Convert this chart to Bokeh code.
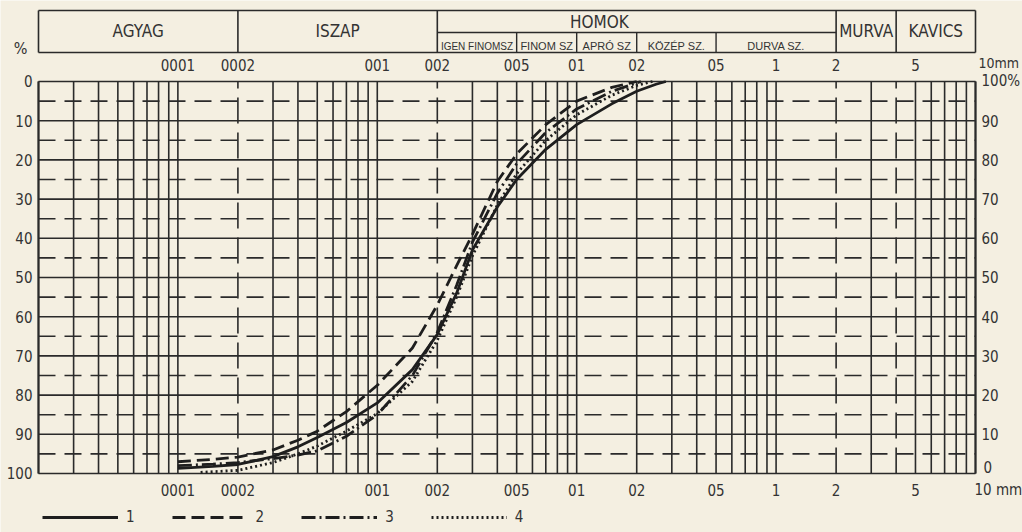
from bokeh.plotting import figure
from bokeh.models import Range1d, Legend, LegendItem
from bokeh.core.properties import value
from bokeh.embed import file_html
from bokeh.resources import INLINE

# ---------------- data ----------------
d1 = [0.001, 0.0015, 0.002, 0.003, 0.004, 0.005, 0.007, 0.01, 0.015, 0.02,
      0.025, 0.03, 0.04, 0.05, 0.07, 0.1, 0.15, 0.2, 0.25, 0.28]
p1 = [1.3, 1.8, 2.3, 4.3, 6.8, 9.2, 13.0, 18.0, 26.5, 35.5,
      46.0, 57.0, 68.0, 75.0, 82.7, 89.0, 94.3, 97.5, 99.3, 100.0]
d2 = [0.001, 0.0015, 0.002, 0.003, 0.004, 0.005, 0.007, 0.01, 0.015, 0.02,
      0.025, 0.03, 0.04, 0.05, 0.07, 0.1, 0.15, 0.2]
p2 = [3.0, 3.6, 4.2, 6.0, 8.5, 10.8, 15.8, 22.5, 32.0, 43.0,
      53.0, 61.0, 74.5, 81.5, 89.0, 95.0, 98.5, 100.0]
d3 = [0.001, 0.0015, 0.002, 0.003, 0.004, 0.005, 0.007, 0.01, 0.015, 0.02,
      0.025, 0.03, 0.04, 0.05, 0.07, 0.1, 0.15, 0.21]
p3 = [2.0, 2.4, 2.8, 3.8, 4.7, 5.8, 9.5, 15.0, 25.0, 36.0,
      48.0, 59.0, 71.5, 79.0, 87.0, 93.0, 97.5, 100.0]
d4 = [0.0013, 0.002, 0.003, 0.004, 0.005, 0.007, 0.01, 0.015, 0.02, 0.025,
      0.03, 0.04, 0.05, 0.07, 0.1, 0.15, 0.2, 0.24]
p4 = [0.3, 0.8, 2.8, 5.0, 7.0, 10.8, 15.3, 23.5, 34.0, 45.0,
      55.5, 68.5, 76.5, 85.0, 91.5, 96.5, 99.0, 100.0]
series_names = ["1", "2", "3", "4"]

# axis / tick data
x_min, x_max = 0.0002, 10.0
decades = [0.0001, 0.001, 0.01, 0.1, 1.0]
boundaries = [0.002, 0.02, 2.0, 4.0]           # dashed fraction limits
sand_bounds = [0.05, 0.1, 0.2, 0.5]             # sand sub-classes
tick_vals = [0.001, 0.002, 0.01, 0.02, 0.05, 0.1, 0.2, 0.5, 1, 2, 5]
tick_text = ["0001", "0002", "001", "002", "005", "01", "02", "05", "1", "2", "5"]
left_vals = [0, 10, 20, 30, 40, 50, 60, 70, 80, 90, 100]      # % retained (top->bottom)
right_text = ["100%", "90", "80", "70", "60", "50", "40", "30", "20", "10"]
right_vals = [100, 90, 80, 70, 60, 50, 40, 30, 20, 10]
main_classes = ["AGYAG", "ISZAP", "HOMOK", "MURVA", "KAVICS"]
main_spans = [(0.0002, 0.002), (0.002, 0.02), (0.02, 2.0), (2.0, 4.0), (4.0, 10.0)]
sand_classes = ["IGEN FINOMSZ", "FINOM SZ", "APRÓ SZ", "KÖZÉP SZ.", "DURVA SZ."]
sand_spans = [(0.02, 0.05), (0.05, 0.1), (0.1, 0.2), (0.2, 0.5), (0.5, 2.0)]

# ---------------- style ----------------
BG = "#f4efe1"
INK = "#2a2a2a"
TXT = "#333333"
NUM_FONT = "'DejaVu Sans Condensed', 'Liberation Sans', sans-serif"
SUB_FONT = "'Liberation Sans', sans-serif"

W, H = 1022, 532
p = figure(width=W, height=H, x_axis_type="log", output_backend="svg",
           toolbar_location=None, x_axis_location=None, y_axis_location=None,
           min_border=0, min_border_left=0, min_border_right=0,
           min_border_top=0, min_border_bottom=0,
           x_range=Range1d(10 ** -3.88953, 10 ** 1.23570),
           y_range=Range1d(-15.051, 120.663))
p.background_fill_color = BG
p.border_fill_color = BG
p.outline_line_color = None
p.grid.grid_line_color = None

# header vertical levels (in % units above the chart)
HEAD_TOP, HEAD_MID, HEAD_BOT = 118.11, 112.5, 107.4

# ---------------- grid ----------------
vlines = []
for dec in decades:
    for m in range(1, 10):
        v = round(m * dec, 6)
        if x_min - 1e-9 <= v <= x_max + 1e-9:
            vlines.append(v)
vlines.append(x_max)
solid_v = [v for v in vlines if all(abs(v - b) > 1e-9 for b in boundaries)]
p.segment(x0=solid_v, y0=[0] * len(solid_v), x1=solid_v, y1=[100] * len(solid_v),
          line_color=INK, line_width=1.6)
p.segment(x0=boundaries, y0=[0] * 4, x1=boundaries, y1=[100] * 4,
          line_color=INK, line_width=1.6, line_dash="26 9")

solid_h = list(range(0, 101, 10))
dash_h = list(range(5, 100, 10))
p.segment(x0=[x_min] * len(solid_h), y0=solid_h, x1=[x_max] * len(solid_h), y1=solid_h,
          line_color=INK, line_width=1.6)
p.segment(x0=[x_min] * len(dash_h), y0=dash_h, x1=[x_max] * len(dash_h), y1=dash_h,
          line_color=INK, line_width=1.6, line_dash="17 9")
p.segment(x0=[x_min, x_max], y0=[0, 0], x1=[x_min, x_max], y1=[100, 100],
          line_color=INK, line_width=2)

# ---------------- header box ----------------
p.segment(x0=[x_min, x_min, x_min, x_max], y0=[HEAD_TOP, HEAD_BOT, HEAD_BOT, HEAD_BOT],
          x1=[x_max, x_max, x_min, x_max], y1=[HEAD_TOP, HEAD_BOT, HEAD_TOP, HEAD_TOP],
          line_color=INK, line_width=1.6)
p.segment(x0=boundaries, y0=[HEAD_BOT] * 4, x1=boundaries, y1=[HEAD_TOP] * 4,
          line_color=INK, line_width=1.6)
p.segment(x0=[0.02], y0=[HEAD_MID], x1=[2.0], y1=[HEAD_MID], line_color=INK, line_width=1.4)
p.segment(x0=sand_bounds, y0=[HEAD_BOT] * 4, x1=sand_bounds, y1=[HEAD_MID] * 4,
          line_color=INK, line_width=1.4)

def geo(a, b):
    return (a * b) ** 0.5

main_x = [geo(*s) for s in main_spans]
main_x[2] = 0.13
main_y = [113.0, 113.0, 115.2, 113.0, 113.0]
p.text(x=main_x, y=main_y, text=main_classes, text_font=value(NUM_FONT),
       text_font_size=value("17px"), text_align="center", text_baseline="middle",
       text_color=TXT)
# first sand class label is the widest: slightly smaller so it fits its box
p.text(x=[geo(*sand_spans[0])], y=[109.0], text=[sand_classes[0]],
       text_font=value(SUB_FONT), text_font_size=value("10px"), text_align="center",
       text_baseline="middle", text_color=TXT)
p.text(x=[geo(*s) for s in sand_spans[1:]], y=[109.0] * 4, text=sand_classes[1:],
       text_font=value(SUB_FONT), text_font_size=value("11px"), text_align="center",
       text_baseline="middle", text_color=TXT)

# ---------------- tick labels ----------------
p.text(x=tick_vals, y=[104.3] * len(tick_vals), text=tick_text, text_font=value(NUM_FONT),
       text_font_size=value("15px"), text_align="center", text_baseline="middle", text_color=TXT)
p.text(x=tick_vals, y=[-4.1] * len(tick_vals), text=tick_text, text_font=value(NUM_FONT),
       text_font_size=value("15px"), text_align="center", text_baseline="middle", text_color=TXT)
p.text(x=[x_max], y=[104.8], text=["10mm"], text_font=value(NUM_FONT),
       text_font_size=value("14px"), text_align="left", text_baseline="middle",
       text_color=TXT, x_offset=3)
p.text(x=[x_max], y=[-4.1], text=["10 mm"], text_font=value(NUM_FONT),
       text_font_size=value("15px"), text_align="left", text_baseline="middle",
       text_color=TXT, x_offset=-1)
p.text(x=[x_min] * len(left_vals), y=[100 - v for v in left_vals],
       text=[str(v) for v in left_vals], text_font=value(NUM_FONT),
       text_font_size=value("15px"), text_align="right", text_baseline="middle",
       text_color=TXT, x_offset=-6)
p.text(x=[x_max] * len(right_vals), y=right_vals, text=right_text, text_font=value(NUM_FONT),
       text_font_size=value("15px"), text_align="left", text_baseline="middle",
       text_color=TXT, x_offset=6)
p.text(x=[x_max], y=[0], text=["0"], text_font=value(NUM_FONT),
       text_font_size=value("15px"), text_align="left", text_baseline="middle",
       text_color=TXT, x_offset=8, y_offset=-6)
p.text(x=[x_min], y=[108.4], text=["%"], text_font=value(NUM_FONT),
       text_font_size=value("16px"), text_align="center", text_baseline="middle",
       text_color=TXT, x_offset=-18)

# ---------------- curves ----------------
r1 = p.line(d1, p1, line_color="#1e1e1e", line_width=2.8)
r2 = p.line(d2, p2, line_color="#1e1e1e", line_width=2.8, line_dash="13 6")
r3 = p.line(d3, p3, line_color="#1e1e1e", line_width=2.8, line_dash="14 4 2 4")
r4 = p.line(d4, p4, line_color="#1e1e1e", line_width=2.8, line_dash="2 3")

legend = Legend(items=[LegendItem(label=n, renderers=[r]) for n, r in
                       zip(series_names, [r1, r2, r3, r4])],
                orientation="horizontal", location=(42, 6),
                glyph_width=76, glyph_height=16, label_standoff=8, label_width=8,
                spacing=37, padding=0, margin=0,
                background_fill_alpha=0, border_line_alpha=0,
                label_text_font=NUM_FONT, label_text_font_size="15px",
                label_text_color=TXT, label_text_baseline="middle")
p.add_layout(legend)

open("out.html", "w").write(file_html(p, INLINE))
